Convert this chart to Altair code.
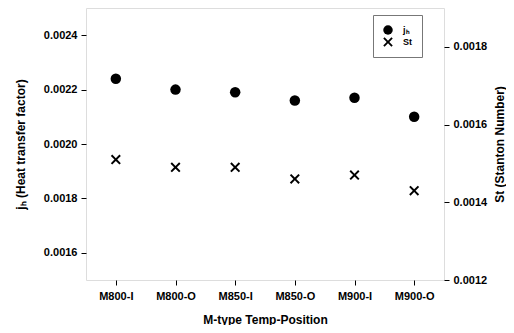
import altair as alt
import pandas as pd

categories = ["M800-I", "M800-O", "M850-I", "M850-O", "M900-I", "M900-O"]
jh_values = [0.00224, 0.00220, 0.00219, 0.00216, 0.00217, 0.00210]
st_values = [0.00151, 0.00149, 0.00149, 0.00146, 0.00147, 0.00143]
left_ticks = [0.0016, 0.0018, 0.0020, 0.0022, 0.0024]
right_ticks = [0.0012, 0.0014, 0.0016, 0.0018]
series_names = ["j\u2095", "St"]

df_j = pd.DataFrame({"cat": categories, "val": jh_values, "series": series_names[0]})
df_s = pd.DataFrame({"cat": categories, "val": st_values, "series": series_names[1]})

XPATH = ("M-1,-0.72L-0.72,-1L0,-0.28L0.72,-1L1,-0.72L0.28,0L1,0.72L0.72,1L0,0.28"
         "L-0.72,1L-1,0.72L-0.28,0Z")

FONT = "Liberation Sans"

x_enc = alt.X("cat:N", sort=categories, scale=alt.Scale(type="point", padding=0.5),
              axis=alt.Axis(title="M-type Temp-Position", labelAngle=0,
                            labelFontWeight="bold", titleFontWeight="bold",
                            labelFontSize=11, titleFontSize=12, tickSize=5,
                            labelPadding=5, titlePadding=13, domain=False,
                            tickColor="black", labelColor="black", titleColor="black",
                            labelFont=FONT, titleFont=FONT))

shape_enc = alt.Shape("series:N",
                      scale=alt.Scale(domain=series_names, range=["circle", XPATH]),
                      legend=alt.Legend(title=None, orient="none", legendX=287, legendY=7,
                                        strokeColor="#777777", padding=10,
                                        labelFont=FONT, labelFontSize=9, labelOffset=10,
                                        labelFontWeight="bold", symbolSize=90,
                                        symbolFillColor="black", symbolStrokeColor="black",
                                        symbolStrokeWidth=0, rowPadding=2))

left = alt.Chart(df_j).mark_point(filled=True, color="black", size=110, opacity=1).encode(
    x=x_enc,
    y=alt.Y("val:Q", scale=alt.Scale(domain=[0.0015, 0.0025], nice=False, zero=False),
            axis=alt.Axis(title="j\u2095 (Heat transfer factor)", values=left_ticks,
                          format=".4f", grid=False, domain=False, tickSize=5,
                          labelPadding=4,
                          labelFontWeight="bold", titleFontWeight="bold",
                          labelFontSize=11, titleFontSize=12, titlePadding=16,
                          tickColor="black", labelColor="black", titleColor="black",
                          labelFont=FONT, titleFont=FONT)),
    shape=shape_enc,
)

right = alt.Chart(df_s).mark_point(filled=True, color="black", size=100, opacity=1).encode(
    x=x_enc,
    y=alt.Y("val:Q", scale=alt.Scale(domain=[0.0012, 0.0019], nice=False, zero=False),
            axis=alt.Axis(title="St (Stanton Number)", orient="right", values=right_ticks,
                          format=".4f", grid=False, domain=False, tickSize=5,
                          labelPadding=4,
                          labelFontWeight="bold", titleFontWeight="bold",
                          labelFontSize=11, titleFontSize=12, titlePadding=20,
                          titleAngle=270,
                          tickColor="black", labelColor="black", titleColor="black",
                          labelFont=FONT, titleFont=FONT)),
    shape=shape_enc,
)

chart = alt.layer(left, right).resolve_scale(y="independent").properties(
    width=498, height=317,
    padding={"left": 6, "right": 0, "top": 0, "bottom": 0},
    autosize=alt.AutoSizeParams(type="fit", contains="padding"),
).configure_view(stroke="black", strokeWidth=2).configure(background="white")

chart.save("out.html", embed_options={"renderer": "svg", "actions": False})
